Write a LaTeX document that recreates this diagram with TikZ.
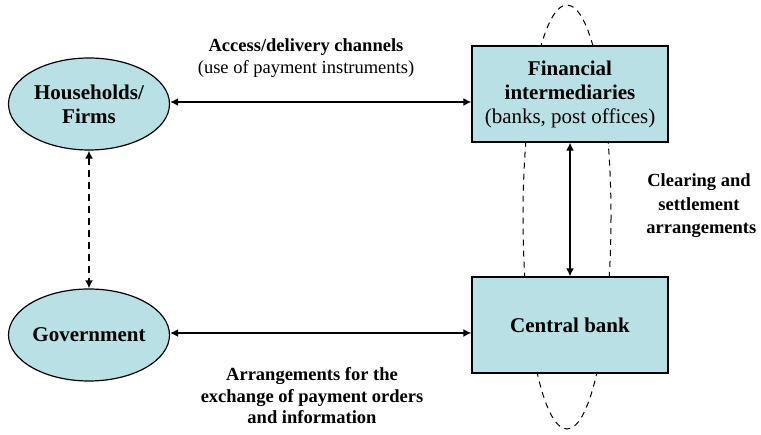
\documentclass[tikz,border=0pt]{standalone}
\usepackage{fontspec}
\setmainfont{Liberation Serif}
\usetikzlibrary{arrows.meta,shapes.geometric}
\definecolor{paleteal}{RGB}{185,224,228}
\tikzset{
  agent/.style={ellipse,draw=black,line width=1.2pt,fill=paleteal,
    minimum width=161pt,minimum height=92pt,inner sep=0pt,align=center,
    font=\fontsize{21}{24}\selectfont\bfseries},
  institution/.style={rectangle,draw=black,line width=1.2pt,fill=paleteal,
    minimum width=196pt,minimum height=96pt,inner sep=0pt,align=center,
    font=\fontsize{21}{24}\selectfont},
  link/.style={line width=2.6pt,{Latex[length=8pt,width=8pt]}-{Latex[length=8pt,width=8pt]}},
  caption/.style={align=center,font=\fontsize{18.5}{22.5}\selectfont}
}
\begin{document}
\begin{tikzpicture}[x=1pt,y=-1pt]
  \useasboundingbox (0,0) rectangle (761,435);
  % loop joining the two institutions
  \draw[line width=1pt,dash pattern=on 6pt off 5pt] (567,217) ellipse [x radius=44, y radius=212];
  \node[agent] (hh) at (89,104) {Households/\\Firms};
  \node[agent] (gov) at (89,335) {Government};
  \node[institution] (fi) at (570,94) {\textbf{Financial}\\\textbf{intermediaries}\\(banks, post offices)};
  \node[institution] (cb) at (570,325) {\textbf{Central bank}};
  % connectors
  \draw[link] (hh.east |- 0,102) -- (fi.west |- 0,102);
  \draw[link] (gov.east |- 0,333) -- (cb.west |- 0,333);
  \draw[link] (fi.south) -- (cb.north);
  \draw[link,dash pattern=on 7pt off 5pt] (hh.south) -- (gov.north);
  % labels
  \node[caption] (lab1) at (306,58) {\textbf{Access/delivery channels}\\(use of payment instruments)};
  \node[caption,font=\fontsize{18.5}{23.5}\selectfont\bfseries] (lab2) at (699,206) {Clearing and\\settlement\\\ arrangements};
  \node[caption,font=\fontsize{18.5}{21.5}\selectfont\bfseries] (lab3) at (312,396) {Arrangements for the\\exchange of payment orders\\and information};
\end{tikzpicture}
\end{document}
